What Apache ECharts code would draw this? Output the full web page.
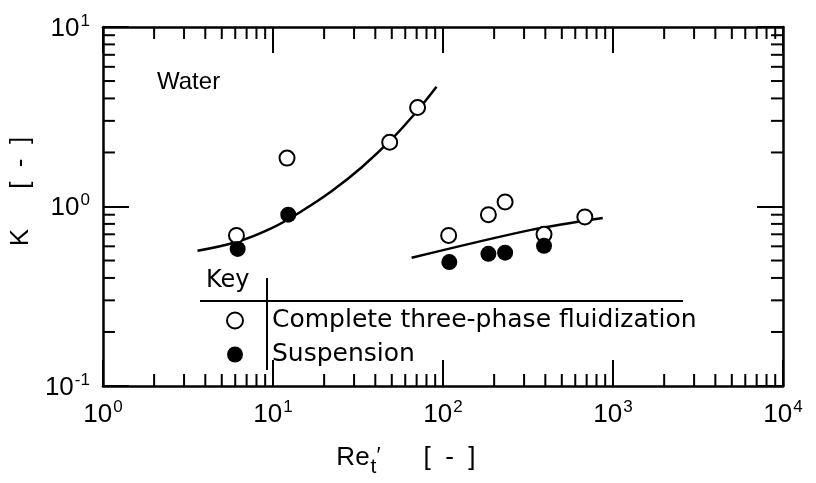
<!DOCTYPE html>
<html>
<head>
<meta charset="utf-8">
<title>K vs Re't</title>
<script src="https://cdn.jsdelivr.net/npm/echarts@6/dist/echarts.min.js"></script>
<style>
  html, body { margin: 0; padding: 0; background: #fff; }
  #chart { width: 816px; height: 483px; }
</style>
</head>
<body>
<div id="chart"></div>
<script>
// measured points, Complete three-phase fluidization (open circles)
const openX = [6.1, 12.1, 48.6, 70.9, 108, 185, 232, 393, 683];
const openY = [0.69, 1.86, 2.28, 3.56, 0.69, 0.90, 1.06, 0.70, 0.875];

// measured points, Suspension (filled circles)
const fillX = [6.2, 12.3, 109, 185, 232, 393];
const fillY = [0.58, 0.90, 0.49, 0.545, 0.553, 0.604];

// hand-drawn correlation curves
const curveAX = [3.6, 6.17, 9.9, 14.8, 22.2, 33.3, 49.9, 70.0, 91.6];
const curveAY = [0.567, 0.636, 0.76, 0.944, 1.219, 1.655, 2.37, 3.38, 4.65];
const curveBX = [65.4, 330, 871];
const curveBY = [0.518, 0.741, 0.864];

// axis ranges (decades)
const xRange = [1, 10000];
const yRange = [0.1, 10];

const INK = '#000';
const TICK_MAJOR = 26;
const TICK_MINOR = 12;

function pairs(xs, ys) {
  return xs.map(function (x, i) { return [x, ys[i]]; });
}

// values 2..9 in every decade of the range
function minorValues(range) {
  const out = [];
  for (let d = range[0]; d < range[1]; d *= 10) {
    for (let m = 2; m <= 9; m++) out.push(+(d * m).toPrecision(6));
  }
  return out;
}

function powLabel(v) {
  const e = Math.round(Math.log10(v));
  return '{b|10}{s|' + e + '}';
}

const labelRich = {
  b: { fontSize: 26, fontFamily: 'Liberation Sans', color: INK, lineHeight: 26, verticalAlign: 'bottom' },
  s: { fontSize: 17, fontFamily: 'Liberation Sans', color: INK, verticalAlign: 'top', padding: [0, 0, 12, 1] }
};

function logAxis(range, position, showLabels, extra) {
  return Object.assign({
    type: 'log',
    logBase: 10,
    min: range[0],
    max: range[1],
    position: position,
    axisLine: { show: true, onZero: false, lineStyle: { color: INK, width: 2.5 } },
    axisTick: { show: true, inside: true, length: TICK_MAJOR, lineStyle: { color: INK, width: 2 } },
    axisLabel: { show: showLabels, formatter: powLabel, rich: labelRich },
    splitLine: { show: false },
    minorTick: { show: false }
  }, extra || {});
}

// minor ticks on bottom + top edges
function renderMinorX(params, api) {
  const v = api.value(0);
  const b = api.coord([v, yRange[0]]);
  const t = api.coord([v, yRange[1]]);
  const st = { stroke: INK, lineWidth: 2 };
  return {
    type: 'group',
    children: [
      { type: 'line', shape: { x1: b[0], y1: b[1], x2: b[0], y2: b[1] - TICK_MINOR }, style: st },
      { type: 'line', shape: { x1: t[0], y1: t[1], x2: t[0], y2: t[1] + TICK_MINOR }, style: st }
    ]
  };
}

// minor ticks on left + right edges
function renderMinorY(params, api) {
  const v = api.value(1);
  const l = api.coord([xRange[0], v]);
  const r = api.coord([xRange[1], v]);
  const st = { stroke: INK, lineWidth: 2 };
  return {
    type: 'group',
    children: [
      { type: 'line', shape: { x1: l[0], y1: l[1], x2: l[0] + TICK_MINOR, y2: l[1] }, style: st },
      { type: 'line', shape: { x1: r[0], y1: r[1], x2: r[0] - TICK_MINOR, y2: r[1] }, style: st }
    ]
  };
}

const chart = echarts.init(document.getElementById('chart'), null, { renderer: 'canvas' });

const option = {
  animation: false,
  backgroundColor: '#fff',
  grid: { left: 100, top: 27, width: 683, height: 361 },
  xAxis: [
    logAxis(xRange, 'bottom', true, {
      axisLabel: { show: true, formatter: powLabel, rich: labelRich, margin: 13 },
      name: '{r|Re}{t|t}{p|\u2032}{g|}{r|[  -  ]}',
      nameLocation: 'middle',
      nameGap: 59,
      nameTextStyle: {
        padding: [0, 74, 0, 0],
        rich: {
          r: { fontSize: 26, fontFamily: 'Liberation Sans', color: INK, lineHeight: 26, verticalAlign: 'top' },
          t: { fontSize: 21, fontFamily: 'Liberation Sans', color: INK, verticalAlign: 'bottom', padding: [12, 0, 0, 1] },
          p: { fontSize: 22, fontFamily: 'Liberation Sans', color: INK, verticalAlign: 'top' },
          g: { width: 43 }
        }
      }
    }),
    logAxis(xRange, 'top', false)
  ],
  yAxis: [
    logAxis(yRange, 'left', true, {
      axisLabel: { show: true, formatter: powLabel, rich: labelRich, margin: 13 },
      name: '{k|K}{g|}{r|[  -  ]}',
      nameLocation: 'middle',
      nameRotate: 90,
      nameGap: 68,
      nameTextStyle: {
        rich: {
          k: { fontSize: 26, fontFamily: 'Liberation Sans', color: INK, padding: [0, 0, 0, 30] },
          g: { width: 40 },
          r: { fontSize: 26, fontFamily: 'Liberation Sans', color: INK }
        }
      }
    }),
    logAxis(yRange, 'right', false)
  ],
  legend: {
    data: ['Complete three-phase fluidization', 'Suspension'],
    orient: 'vertical',
    left: 221,
    top: 303,
    itemWidth: 16,
    itemHeight: 16,
    itemGap: 9,
    selectedMode: false,
    textStyle: {
      fontFamily: 'DejaVu Sans',
      fontSize: 25,
      lineHeight: 24,
      color: INK,
      padding: [0, 0, 0, 24]
    }
  },
  graphic: [
    { type: 'text', left: 157, top: 70, style: { text: 'Water', font: '24px "Liberation Sans"', fill: INK } },
    { type: 'text', left: 206, top: 269, style: { text: 'Key', font: '24px "DejaVu Sans"', fill: INK } },
    { type: 'line', shape: { x1: 200, y1: 301, x2: 683, y2: 301 }, style: { stroke: INK, lineWidth: 2 } },
    { type: 'line', shape: { x1: 267, y1: 278, x2: 267, y2: 370 }, style: { stroke: INK, lineWidth: 2 } }
  ],
  series: [
    {
      name: 'curveA',
      type: 'line',
      data: pairs(curveAX, curveAY),
      smooth: 0.4,
      showSymbol: false,
      silent: true,
      z: 1,
      lineStyle: { color: INK, width: 2.5 }
    },
    {
      name: 'curveB',
      type: 'line',
      data: pairs(curveBX, curveBY),
      smooth: 0.3,
      showSymbol: false,
      silent: true,
      z: 1,
      lineStyle: { color: INK, width: 2.5 }
    },
    {
      name: 'Complete three-phase fluidization',
      type: 'scatter',
      data: pairs(openX, openY),
      symbol: 'circle',
      symbolSize: 15,
      z: 3,
      itemStyle: { color: '#fff', borderColor: INK, borderWidth: 2, opacity: 1 }
    },
    {
      name: 'Suspension',
      type: 'scatter',
      data: pairs(fillX, fillY),
      symbol: 'circle',
      symbolSize: 16,
      z: 4,
      itemStyle: { color: INK, opacity: 1 }
    },
    {
      name: 'minorX',
      type: 'custom',
      renderItem: renderMinorX,
      data: minorValues(xRange).map(function (v) { return [v, 1]; }),
      clip: false,
      silent: true,
      z: 2
    },
    {
      name: 'minorY',
      type: 'custom',
      renderItem: renderMinorY,
      data: minorValues(yRange).map(function (v) { return [1, v]; }),
      clip: false,
      silent: true,
      z: 2
    }
  ]
};

chart.setOption(option);
</script>
</body>
</html>
